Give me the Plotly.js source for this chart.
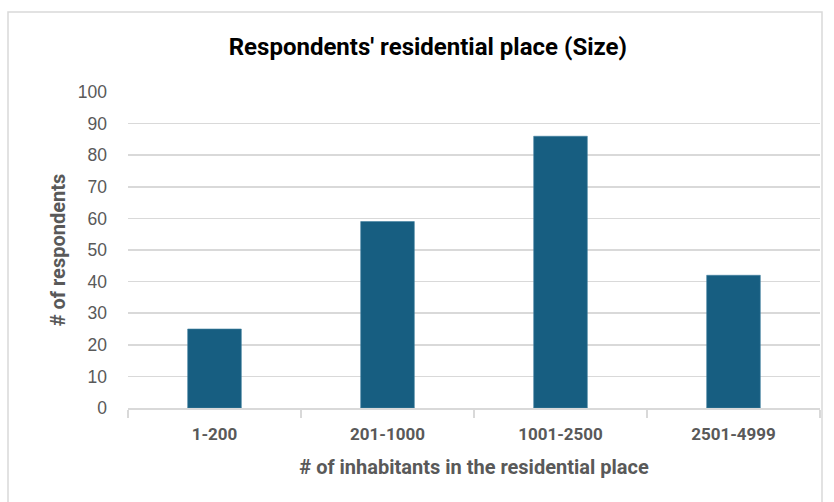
<!DOCTYPE html>
<html>
<head>
<meta charset="utf-8">
<script src="https://cdn.plot.ly/plotly-3.0.1.min.js"></script>
<style>
  html, body { margin: 0; padding: 0; background: #ffffff; }
  #chart { width: 834px; height: 502px; }
</style>
</head>
<body>
<div id="chart"></div>
<script>
// Size classes of the place of residence and how many respondents live in each
const categories = ['1-200', '201-1000', '1001-2500', '2501-4999'];
const respondents = [25, 59, 86, 42];
const yTicks = [0, 10, 20, 30, 40, 50, 60, 70, 80, 90, 100];

const W = 834, H = 502;
const M = { l: 128, r: 14, t: 92, b: 94 };
const plotW = W - M.l - M.r;
const plotH = H - M.t - M.b;
// pixel -> paper coordinates for the outer frame
const px = x => (x - M.l) / plotW;
const py = y => (H - M.b - y) / plotH;

const grey = '#595959';
const gridGrey = '#d9d9d9';
const boldFont = 'Roboto, Arial, sans-serif';

const trace = {
  type: 'bar',
  x: categories,
  y: respondents,
  marker: { color: '#175e81', line: { color: '#3f7fa0', width: 0.6 } },
  hoverinfo: 'x+y'
};

const layout = {
  width: W, height: H,
  margin: M,
  paper_bgcolor: '#ffffff',
  plot_bgcolor: '#ffffff',
  bargap: 0.69,
  showlegend: false,
  title: {
    text: "Respondents' residential place (Size)",
    font: { family: boldFont, size: 24, color: '#000000', weight: 'bold' },
    x: 0.513, xanchor: 'center',
    y: 1 - 47 / H, yanchor: 'middle', yref: 'container'
  },
  xaxis: {
    type: 'category',
    showgrid: false,
    showline: true, linecolor: gridGrey, linewidth: 1.5,
    ticks: 'outside', tickson: 'boundaries', ticklen: 8, tickcolor: gridGrey, tickwidth: 1.5,
    ticklabelstandoff: 10,
    tickfont: { family: boldFont, size: 17, color: grey, weight: 'bold' },
    title: {
      text: '# of inhabitants in the residential place',
      font: { family: boldFont, size: 20, color: grey, weight: 'bold' },
      standoff: 17
    }
  },
  yaxis: {
    range: [0, 100],
    tickvals: yTicks,
    showgrid: true, gridcolor: gridGrey, gridwidth: 1.5,
    zeroline: false, showline: false,
    ticks: '',
    ticklabelstandoff: 20,
    tickfont: { family: 'Liberation Sans, Arial, sans-serif', size: 17.5, color: grey },
    title: {
      text: '# of respondents',
      font: { family: boldFont, size: 20, color: grey, weight: 'bold' },
      standoff: 6
    }
  },
  shapes: [
    {
      type: 'rect', xref: 'paper', yref: 'paper',
      x0: px(8), x1: px(822), y0: py(12), y1: py(520),
      line: { color: '#d9d9d9', width: 1.5 }, fillcolor: 'rgba(0,0,0,0)',
      layer: 'below'
    }
  ]
};

Plotly.newPlot('chart', [trace], layout, { displayModeBar: false, staticPlot: true });
</script>
</body>
</html>
